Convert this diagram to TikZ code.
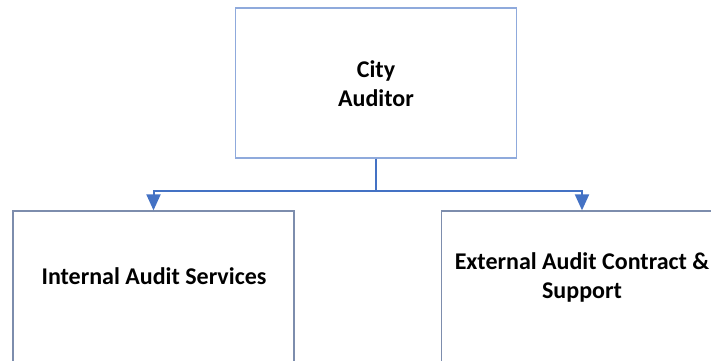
\documentclass[tikz,border=0pt]{standalone}
\usepackage{fontspec}
\setmainfont{Carlito}
\usetikzlibrary{arrows.meta}

\definecolor{topline}{HTML}{8FAADC}
\definecolor{boxline}{HTML}{7D8DAD}
\definecolor{connblue}{HTML}{4472C4}

\tikzset{
  topbox/.style={draw=topline, line width=1.2pt, minimum width=281pt, minimum height=150pt},
  lowbox/.style={draw=boxline, line width=1.3pt, minimum width=281pt, minimum height=170pt},
  boxtext/.style={align=center, font=\fontsize{24}{29}\selectfont\bfseries},
  conn/.style={draw=connblue, line width=2pt, -{Triangle[width=14pt,length=16pt]}}
}

\begin{document}
\begin{tikzpicture}[x=1pt,y=-1pt]
  \useasboundingbox (0,0) rectangle (711,360);
  \clip (0,0) rectangle (711,360);

  % boxes
  \node[topbox] (auditor) at (376,83) {};
  \node[lowbox] (internal) at (153.5,296) {};
  \node[lowbox] (external) at (582,296) {};

  % texts
  \node[boxtext] (auditortext) at (376,84) {City\\Auditor};
  \node[boxtext] (internaltext) at (154,276) {Internal Audit Services};
  \node[boxtext] (externaltext) at (582,277) {External Audit Contract \&\\Support};

  % connectors
  \draw[conn] (auditor.south) -- ++(0,32) -| (internal.north);
  \draw[conn] (auditor.south) -- ++(0,32) -| (external.north);
\end{tikzpicture}
\end{document}
